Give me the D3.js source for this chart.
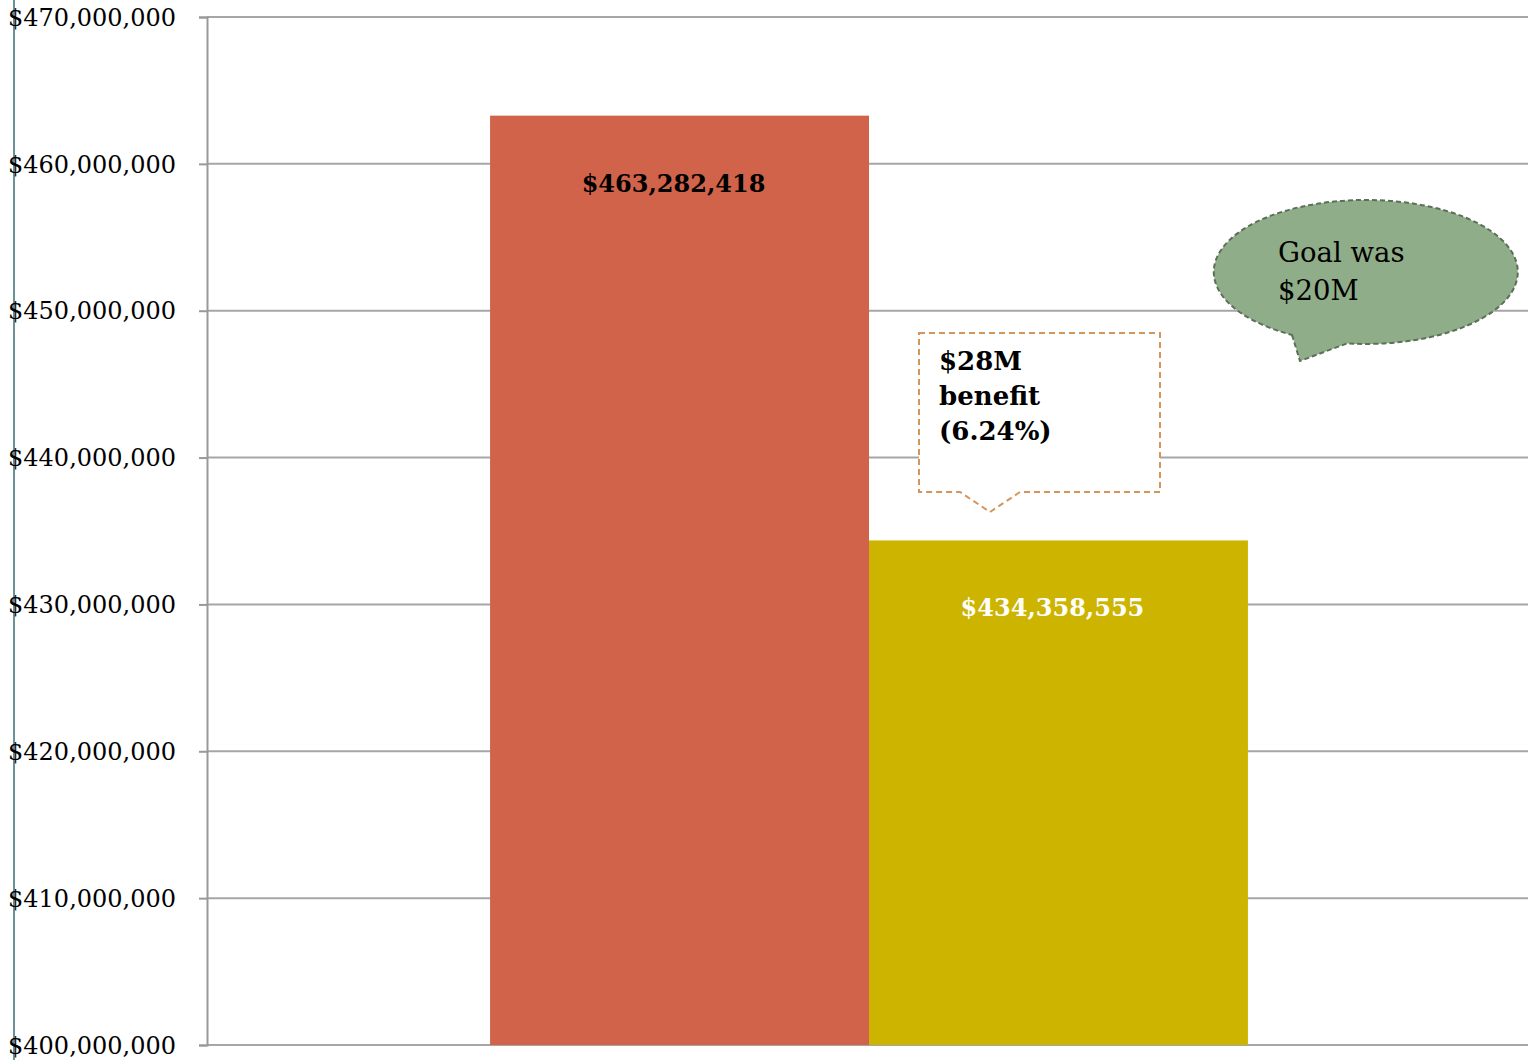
<!DOCTYPE html>
<html>
<head lang="en">
    <meta charset="UTF-8">
    <title></title>
    <style>
        body { margin: 0; background: #fff; }
        text { font-family: Georgia, "DejaVu Serif", serif; }
    </style>
</head>
<body>
<div id="chart"></div>
<script src="https://cdn.jsdelivr.net/npm/d3@7/dist/d3.min.js"></script>
<script>
    // data
    var series = ["Before", "After"];
    var values = [463282418, 434358555];
    var barColors = ["#d1634a", "#cdb400"];
    var labelColors = ["#000", "#fff"];
    var tickValues = [400000000, 410000000, 420000000, 430000000, 440000000, 450000000, 460000000, 470000000];
    var calloutLines = ["$28M", "benefit", "(6.24%)"];
    var goalLines = ["Goal was", "$20M"];

    // plot box (note: "top" is reserved on window, so use other names)
    var W = 1528, H = 1060;
    var plotLeft = 207, plotRight = 1528, plotTop = 17, plotBottom = 1045;

    var svg = d3.select("#chart").append("svg")
        .attr("width", W).attr("height", H);

    var y = d3.scaleLinear().domain([400000000, 470000000]).range([plotBottom, plotTop]);
    var x = d3.scaleBand().domain(series).range([plotLeft, plotRight + 3])
        .paddingInner(0).paddingOuter(0.747);

    var fmt = d3.format("$,");

    // outer teal line
    svg.append("line").attr("x1", 14).attr("x2", 14).attr("y1", 0).attr("y2", H)
        .attr("stroke", "#6a9399").attr("stroke-width", 2);

    // gridlines
    svg.append("g").selectAll("line").data(tickValues).enter().append("line")
        .attr("x1", plotLeft).attr("x2", plotRight)
        .attr("y1", function(d){ return y(d); }).attr("y2", function(d){ return y(d); })
        .attr("stroke", "#a6a6a6").attr("stroke-width", 2);

    // y axis
    var axis = svg.append("g").attr("transform", "translate(" + plotLeft + ",0)")
        .call(d3.axisLeft(y).tickValues(tickValues).tickFormat(fmt).tickSize(8).tickPadding(23));
    axis.select(".domain").attr("stroke", "#999").attr("stroke-width", 2);
    axis.selectAll(".tick line").attr("stroke", "#999").attr("stroke-width", 2);
    axis.selectAll(".tick text").attr("font-size", 24).attr("fill", "#000")
        .attr("dy", "0.34em")
        .style("font-family", "Georgia, 'DejaVu Serif', serif");

    // bars
    svg.append("g").selectAll("rect").data(series).enter().append("rect")
        .attr("x", function(d){ return x(d); })
        .attr("width", x.bandwidth())
        .attr("y", function(d, i){ return y(values[i]); })
        .attr("height", function(d, i){ return plotBottom - y(values[i]); })
        .attr("fill", function(d, i){ return barColors[i]; });

    svg.append("g").selectAll("text").data(series).enter().append("text")
        .attr("x", function(d){ return x(d) + x.bandwidth() / 2 - 6; })
        .attr("y", function(d, i){ return y(values[i]) + 76; })
        .attr("text-anchor", "middle")
        .attr("font-size", 24).attr("font-weight", "bold")
        .attr("fill", function(d, i){ return labelColors[i]; })
        .text(function(d, i){ return fmt(values[i]); });

    // callout box
    svg.append("path")
        .attr("d", "M919,333 L1160,333 L1160,492 L1020,492 L990,512 L960,492 L919,492 Z")
        .attr("fill", "#fff").attr("stroke", "#d4955a")
        .attr("stroke-width", 2).attr("stroke-dasharray", "6,4");
    svg.append("g").selectAll("text").data(calloutLines).enter().append("text")
        .attr("x", 939).attr("y", function(d, i){ return 370 + i * 35; })
        .attr("font-size", 26).attr("font-weight", "bold").attr("fill", "#000")
        .text(function(d){ return d; });

    // goal bubble
    svg.append("path")
        .attr("d", "M1292,334.9 L1300,361 L1347,343.4 A152 72 0 1 0 1292,334.9 Z")
        .attr("fill", "#8fad88").attr("stroke", "#5d6f5a")
        .attr("stroke-width", 2).attr("stroke-dasharray", "5,3");
    svg.append("g").selectAll("text").data(goalLines).enter().append("text")
        .attr("x", 1278).attr("y", function(d, i){ return 262 + i * 38; })
        .attr("font-size", 27.5).attr("fill", "#000")
        .text(function(d){ return d; });
</script>
</body>
</html>
